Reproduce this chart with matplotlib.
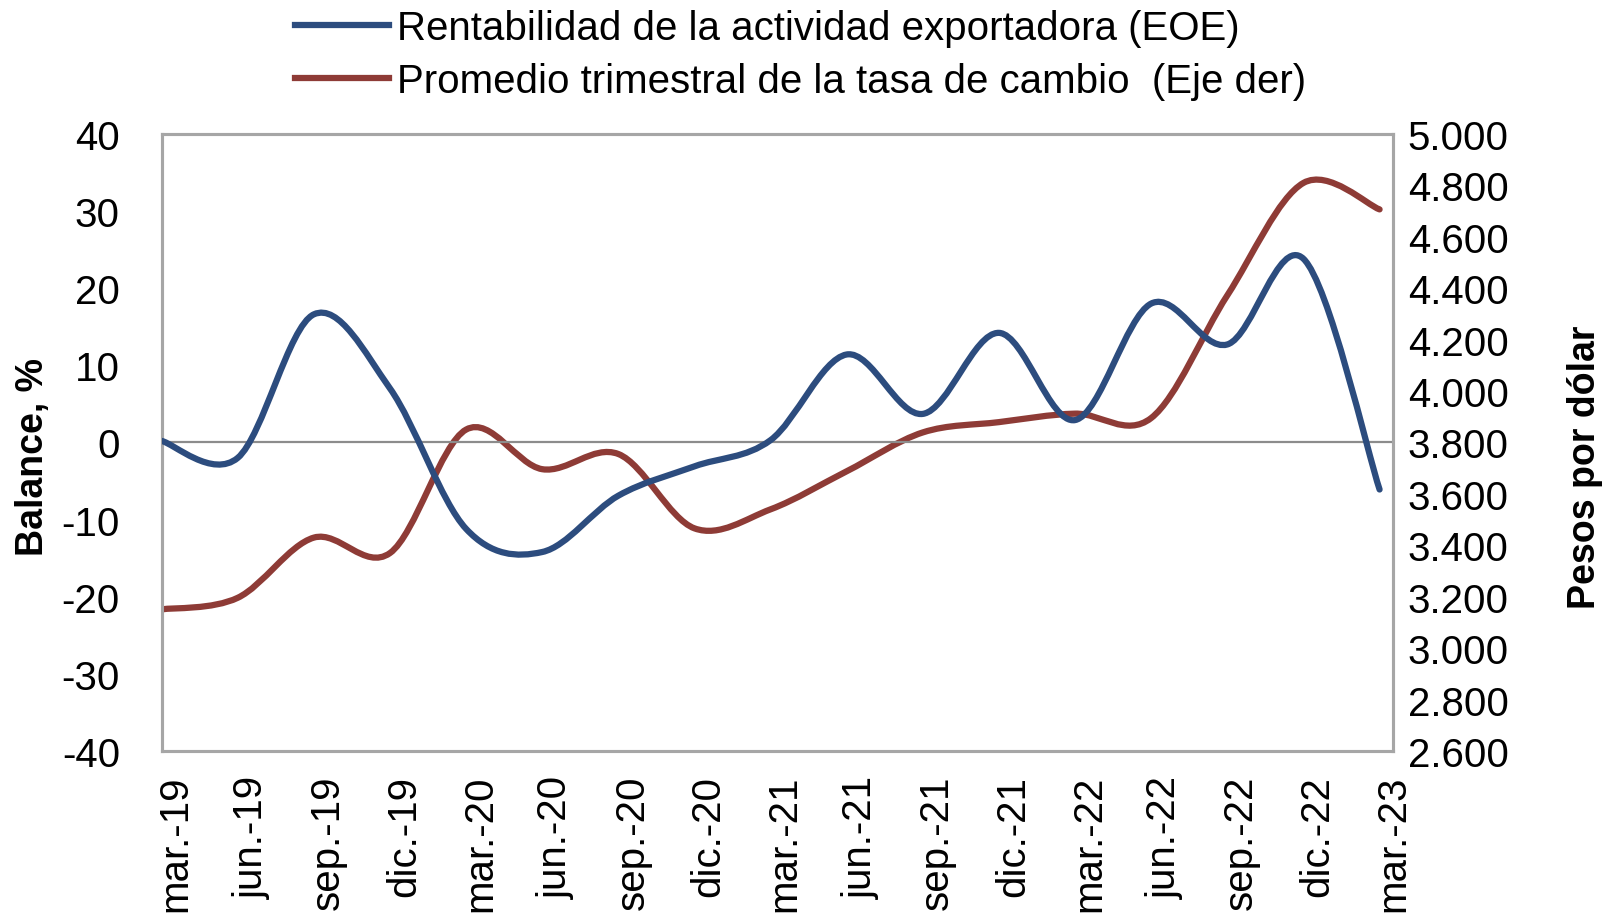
import numpy as np
import matplotlib.pyplot as plt
import matplotlib.transforms as mtransforms
from matplotlib.path import Path
from matplotlib.patches import PathPatch
from matplotlib.lines import Line2D
from matplotlib.ticker import FuncFormatter

plt.rcParams['font.family'] = ['Liberation Sans', 'DejaVu Sans']
plt.rcParams['axes.unicode_minus'] = False

# Quarters shown on the x axis
quarters = ['mar.-19', 'jun.-19', 'sep.-19', 'dic.-19',
            'mar.-20', 'jun.-20', 'sep.-20', 'dic.-20',
            'mar.-21', 'jun.-21', 'sep.-21', 'dic.-21',
            'mar.-22', 'jun.-22', 'sep.-22', 'dic.-22',
            'mar.-23']

# Rentabilidad de la actividad exportadora (EOE), balance %
eoe_balance = [0.2, -2.0, 16.6, 7.0, -11.2, -14.2, -6.9, -3.1, 0.3,
               11.4, 3.7, 14.2, 2.9, 18.0, 12.7, 23.8, -6.1]

# Promedio trimestral de la tasa de cambio, pesos por dolar
tasa_cambio = [3151, 3196, 3430, 3370, 3850, 3696, 3755, 3466, 3540,
               3688, 3839, 3879, 3912, 3895, 4372, 4809, 4706]

blue = '#2C4C7E'
red = '#8E3B36'
lw = 4.5


def smooth_path(xs, ys):
    # Excel style smoothed line: cubic bezier with catmull-rom control points
    pts = np.column_stack([xs, ys]).astype(float)
    n = len(pts)
    verts = [pts[0]]
    codes = [Path.MOVETO]
    for i in range(n - 1):
        p0 = pts[i - 1] if i > 0 else pts[i]
        p1 = pts[i]
        p2 = pts[i + 1]
        p3 = pts[i + 2] if i + 2 < n else pts[i + 1]
        c1 = p1 + (p2 - p0) / 6.0
        c2 = p2 - (p3 - p1) / 6.0
        verts += [c1, c2, p2]
        codes += [Path.CURVE4] * 3
    return Path(verts, codes)


x = np.arange(len(quarters))

fig = plt.figure(figsize=(16.08, 9.2), dpi=100)
ax = fig.add_axes([0.1005, 0.1825, 0.7655, 0.671])
ax2 = ax.twinx()

ax.set_xlim(0, len(quarters) - 1 + 0.17)
ax.set_ylim(-40, 40)
ax2.set_ylim(2600, 5000)

ax.axhline(0, color='#8C8C8C', lw=1.6, zorder=1)

ax2.add_patch(PathPatch(smooth_path(x, tasa_cambio), fill=False, edgecolor=red,
                        lw=lw, capstyle='round', joinstyle='round', zorder=3))
ax.add_patch(PathPatch(smooth_path(x, eoe_balance), fill=False, edgecolor=blue,
                       lw=lw, capstyle='round', joinstyle='round', zorder=3))
# blue line should sit on top of the red one
ax.set_zorder(ax2.get_zorder() + 1)
ax.patch.set_visible(False)

ax.set_yticks(np.arange(-40, 41, 10))
ax2.set_yticks(np.arange(2600, 5001, 200))
ax2.yaxis.set_major_formatter(FuncFormatter(lambda v, p: f'{v:,.0f}'.replace(',', '.')))

fs = 29
ax.set_xticks(x)
ax.set_xticklabels(quarters, rotation=90, va='top', ha='center')
ax.tick_params(axis='y', length=0, pad=30, labelsize=fs)
ax.tick_params(axis='x', length=0, pad=17, labelsize=fs)
ax2.tick_params(axis='y', length=0, pad=11, labelsize=fs)

# Excel puts the rotated labels a bit to the right of each point
offset = mtransforms.ScaledTranslation(0.14, 0, fig.dpi_scale_trans)
for lab in ax.get_xticklabels():
    lab.set_transform(lab.get_transform() + offset)

for a in (ax, ax2):
    for s in a.spines.values():
        s.set_color('#A6A6A6')
        s.set_linewidth(2.2)

ax.set_ylabel('Balance, %', fontsize=27, fontweight='bold')
ax2.set_ylabel('Pesos por dólar', fontsize=27, fontweight='bold')
ax.yaxis.set_label_coords(-0.09, 0.478)
ax2.yaxis.set_label_coords(1.142, 0.462)

handles = [Line2D([], [], color=blue, lw=lw),
           Line2D([], [], color=red, lw=lw)]
labels = ['Rentabilidad de la actividad exportadora (EOE)',
          'Promedio trimestral de la tasa de cambio  (Eje der)']
fig.legend(handles, labels, loc='upper left', bbox_to_anchor=(0.177, 1.0),
           frameon=False, fontsize=fs, handlelength=2.35, handletextpad=0.2,
           labelspacing=0.38, borderpad=0.25, borderaxespad=0)

fig.savefig('out.png', dpi=100)
